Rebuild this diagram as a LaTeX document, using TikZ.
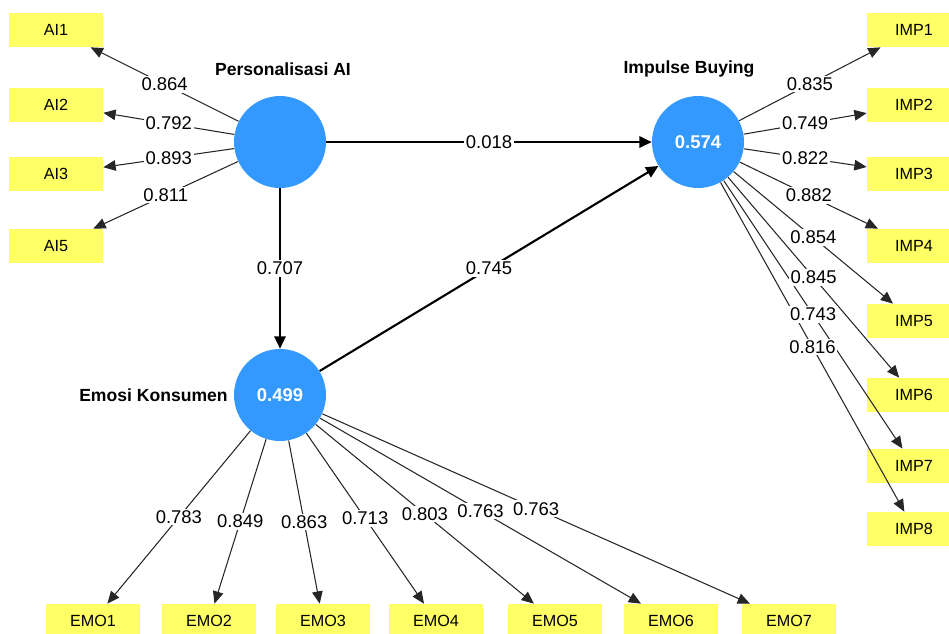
\documentclass[tikz,border=0pt]{standalone}
\usepackage{fontspec}
\setmainfont{Liberation Sans}
\usetikzlibrary{arrows.meta}
\definecolor{lvblue}{RGB}{51,153,255}
\definecolor{indyellow}{RGB}{255,255,102}

\begin{document}
\begin{tikzpicture}[x=0.02cm,y=-0.02cm,
  latent/.style={circle,fill=lvblue,minimum size=1.84cm,inner sep=0pt,text=white,font=\fontsize{10.5}{12}\selectfont\bfseries},
  indic/.style={fill=indyellow,minimum width=1.88cm,minimum height=0.68cm,inner sep=0pt,font=\fontsize{9.2}{11}\selectfont},
  title/.style={inner sep=0pt,font=\fontsize{10}{12}\selectfont\bfseries},
  struct/.style={draw=black,line width=1.2pt,-{Triangle[length=7pt,width=6.5pt]}},
  load/.style={draw=black!85,line width=0.6pt,-{Triangle[length=7pt,width=6pt]}},
  coef/.style={pos=0.5,fill=white,inner sep=1pt,font=\fontsize{10.5}{12}\selectfont}]
\useasboundingbox (0,0) rectangle (949,633);
\clip (0,0) rectangle (949,633);

\node[latent](pa) at (280,142) {};
\node[latent](pb) at (698,142) {0.574};
\node[latent](pc) at (280,395) {0.499};

\node[title](ta) at (283,69) {Personalisasi AI};
\node[title](tb) at (689,69) {Impulse Buying};
\node[title,anchor=east](tc) at (228,395) {Emosi Konsumen};

\node[indic](ai1) at (56,30) {AI1};
\node[indic](ai2) at (56,105) {AI2};
\node[indic](ai3) at (56,174) {AI3};
\node[indic](ai5) at (56,246) {AI5};

\node[indic](imp1) at (914,30) {IMP1};
\node[indic](imp2) at (914,105) {IMP2};
\node[indic](imp3) at (914,174) {IMP3};
\node[indic](imp4) at (914,246) {IMP4};
\node[indic](imp5) at (914,321) {IMP5};
\node[indic](imp6) at (914,395) {IMP6};
\node[indic](imp7) at (914,466) {IMP7};
\node[indic](imp8) at (914,529) {IMP8};

\node[indic](emo1) at (93,621) {EMO1};
\node[indic](emo2) at (209,621) {EMO2};
\node[indic](emo3) at (323,621) {EMO3};
\node[indic](emo4) at (436,621) {EMO4};
\node[indic](emo5) at (555,621) {EMO5};
\node[indic](emo6) at (671,621) {EMO6};
\node[indic](emo7) at (789,621) {EMO7};

% inner model
\draw[struct] (pa)--(pb);
\draw[struct] (pa)--(pc);
\draw[struct] (pc)--(pb);

% outer loadings
\draw[load] (pa)--(ai1);
\draw[load] (pa)--(ai2);
\draw[load] (pa)--(ai3);
\draw[load] (pa)--(ai5);
\draw[load] (pb)--(imp1);
\draw[load] (pb)--(imp2);
\draw[load] (pb)--(imp3);
\draw[load] (pb)--(imp4);
\draw[load] (pb)--(imp5);
\draw[load] (pb)--(imp6);
\draw[load] (pb)--(imp7);
\draw[load] (pb)--(imp8);
\draw[load] (pc)--(emo1);
\draw[load] (pc)--(emo2);
\draw[load] (pc)--(emo3);
\draw[load] (pc)--(emo4);
\draw[load] (pc)--(emo5);
\draw[load] (pc)--(emo6);
\draw[load] (pc)--(emo7);

% values on top of the lines
\path (pa)--(pb) node[coef]{0.018};
\path (pa)--(pc) node[coef]{0.707};
\path (pc)--(pb) node[coef]{0.745};
\path (pa)--(ai1) node[coef]{0.864};
\path (pa)--(ai2) node[coef]{0.792};
\path (pa)--(ai3) node[coef]{0.893};
\path (pa)--(ai5) node[coef]{0.811};
\path (pb)--(imp1) node[coef]{0.835};
\path (pb)--(imp2) node[coef]{0.749};
\path (pb)--(imp3) node[coef]{0.822};
\path (pb)--(imp4) node[coef]{0.882};
\path (pb)--(imp5) node[coef]{0.854};
\path (pb)--(imp6) node[coef]{0.845};
\path (pb)--(imp7) node[coef]{0.743};
\path (pb)--(imp8) node[coef]{0.816};
\path (pc)--(emo1) node[coef]{0.783};
\path (pc)--(emo2) node[coef]{0.849};
\path (pc)--(emo3) node[coef]{0.863};
\path (pc)--(emo4) node[coef]{0.713};
\path (pc)--(emo5) node[coef]{0.803};
\path (pc)--(emo6) node[coef]{0.763};
\path (pc)--(emo7) node[coef]{0.763};

\end{tikzpicture}
\end{document}
